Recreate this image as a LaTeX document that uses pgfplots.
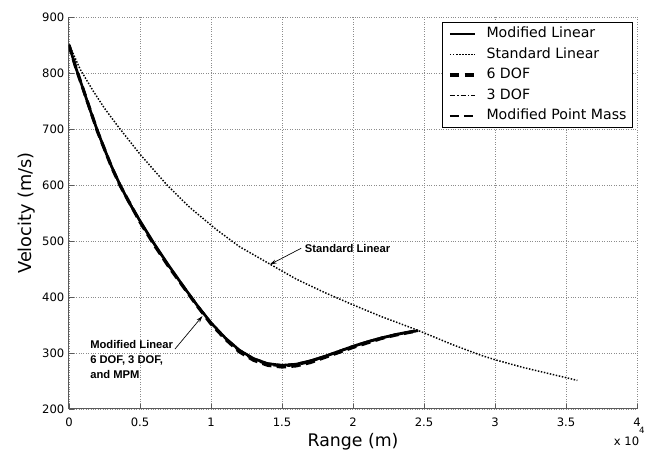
\documentclass[border=0pt]{standalone}
\usepackage{pgfplots}
\pgfplotsset{compat=1.18}
\usepackage{pgfplotstable}
\usepackage{fontspec}
\setmainfont{DejaVu Sans}
\newfontfamily\annofont{Liberation Sans}
\usetikzlibrary{arrows.meta}

\pgfplotstableread{
x y
0 850
0.05 808
0.1 771
0.15 733
0.2 697
0.25 664
0.3 633
0.36 600
0.42 570
0.5 536
0.6 495
0.7 457
0.8 421
0.9 386
1.0 354
1.1 327
1.2 305
1.3 290
1.4 281
1.5 278
1.6 280
1.7 286
1.8 294
1.9 303
2.0 312
2.1 320
2.2 327
2.3 333
2.4 338
2.46 340
}\modlin

\pgfplotstableread{
x y
0 851
0.08 806
0.17 768
0.25 737
0.35 703
0.5 655
0.69 600
0.85 560
1.04 520
1.2 490
1.42 458
1.6 432
1.8 408
2.0 386
2.2 365
2.4 346
2.5 336
2.7 315
2.9 296
3.0 288
3.2 274
3.4 262
3.5 256
3.58 251
}\stdlin

\pgfplotstableread{
x y
0 850
0.05 808
0.1 771
0.2 696
0.3 632
0.36 599
0.5 534
0.6 493
0.7 455
0.8 420
0.9 385
1.0 352
1.1 325
1.2 302
1.3 287
1.4 278
1.5 275
1.6 277
1.7 283
1.8 292
1.9 301
2.0 310
2.1 318
2.2 326
2.3 332
2.4 337
2.45 339
}\sixdof

\pgfplotstableread{
x y
0 850
0.05 808
0.1 771
0.2 697
0.3 633
0.36 600
0.5 536
0.6 495
0.7 457
0.8 421
0.9 387
1.0 355
1.1 328
1.2 306
1.3 291
1.4 282
1.5 279
1.6 281
1.7 287
1.8 295
1.9 304
2.0 313
2.1 321
2.2 328
2.3 334
2.4 338
2.45 340
}\threedof

\pgfplotstableread{
x y
0 850
0.05 808
0.1 771
0.2 696
0.3 632
0.36 599
0.5 535
0.6 494
0.7 456
0.8 420
0.9 386
1.0 353
1.1 326
1.2 303
1.3 288
1.4 279
1.5 276
1.6 278
1.7 284
1.8 293
1.9 302
2.0 311
2.1 319
2.2 326
2.3 332
2.4 337
2.45 339
}\mpm

\begin{document}
\begin{tikzpicture}
\path[use as bounding box] (-51.75pt,-33pt) rectangle (438.75pt,306.75pt);
\begin{axis}[
  at={(0,0)}, anchor=south west,
  scale only axis, width=426pt, height=294pt,
  xmin=0, xmax=4, ymin=200, ymax=900,
  clip mode=individual,
  xtick={0,0.5,...,4}, ytick={200,300,...,900},
  axis x line*=bottom, axis y line*=left,
  axis line style={-, draw=black!65, line width=0.75pt},
  tick align=inside, major tick length=3.5pt,
  tick style={draw=black!65, line width=0.6pt},
  grid=major,
  major grid style={draw=black!45, line width=0.5pt, dash pattern=on 0.6pt off 1.2pt},
  ticklabel style={font=\fontsize{8.7}{10}\selectfont},
  /pgf/number format/assume math mode=true,
  xticklabel style={yshift=-3.5pt},
  xlabel={Range (m)}, ylabel={Velocity (m/s)},
  xlabel style={at={(axis description cs:0.5,-0.0944)}, anchor=base, font=\fontsize{13}{15}\selectfont},
  ylabel style={at={(axis description cs:-0.0655,0.5)}, anchor=base, font=\fontsize{13.3}{15}\selectfont},
  legend cell align=left,
  legend image code/.code={\draw[#1] (0pt,0pt) -- (18.75pt,0pt);},
  legend style={at={(1,1)}, anchor=north east, xshift=-3pt, yshift=-3.75pt,
    draw=black, line width=0.75pt, fill=white,
    font=\fontsize{10.6}{12}\selectfont,
    inner xsep=4.5pt, inner ysep=3.5pt, row sep=4.8pt,
    nodes={inner sep=0pt, text height=8pt, text depth=2.5pt},
    /tikz/every odd column/.append style={column sep=7.5pt}},
]
\addplot[black, line width=2pt] table[x=x,y=y] {\modlin};
\addlegendentry{Modified Linear}
\addplot[black, line width=1.1pt, dash pattern=on 1.1pt off 1.2pt] table[x=x,y=y] {\stdlin};
\addlegendentry{Standard Linear}
\addplot[black, line width=2.4pt, dash pattern=on 7pt off 4pt] table[x=x,y=y] {\sixdof};
\addlegendentry{6 DOF}
\addplot[black, line width=1pt, dash pattern=on 4pt off 1.5pt on 1pt off 1.5pt] table[x=x,y=y] {\threedof};
\addlegendentry{3 DOF}
\addplot[black, line width=1.4pt, dash pattern=on 6.5pt off 4pt] table[x=x,y=y] {\mpm};
\addlegendentry{Modified Point Mass}

\draw[-{Stealth[length=5pt,width=3pt]}, line width=0.5pt] (axis cs:1.635,487) -- (axis cs:1.415,458);
\node[anchor=west, inner sep=0pt, font=\annofont\bfseries\fontsize{8.4}{10}\selectfont] at (axis cs:1.66,486) {Standard Linear};
\draw[-{Stealth[length=5pt,width=3pt]}, line width=0.5pt] (axis cs:0.746,307) -- (axis cs:0.94,366);
\node[anchor=north west, inner sep=0pt, align=left, font=\annofont\bfseries\fontsize{8.4}{11.25}\selectfont] at (axis cs:0.148,323) {Modified Linear\\6 DOF, 3 DOF,\\and MPM};
\node[anchor=base east, inner sep=0pt, font=\fontsize{8.7}{10}\selectfont] at ([xshift=6pt,yshift=-27.75pt]rel axis cs:1,0) {x 10\raisebox{9pt}{\fontsize{6.5}{7}\selectfont 4}};
\end{axis}
\end{tikzpicture}
\end{document}
